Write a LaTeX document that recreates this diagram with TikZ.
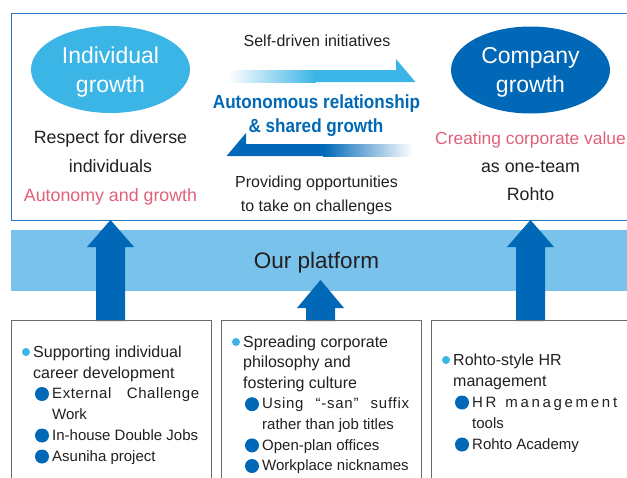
\documentclass[tikz,border=0pt]{standalone}
\usepackage{fontspec}
\setmainfont{Liberation Sans}
\newfontfamily\condbold[FakeStretch=0.9]{Liberation Sans Bold}
\usetikzlibrary{shapes.geometric}
\definecolor{lb}{HTML}{3BB4E6}
\definecolor{db}{HTML}{0068B6}
\definecolor{bandc}{HTML}{78C2EC}
\definecolor{pinkc}{HTML}{E0607A}
\definecolor{txt}{HTML}{231F20}
\definecolor{framec}{HTML}{2B77BC}
\definecolor{boxc}{HTML}{6A6A6A}
\newcommand\bigup[4]{% cx, tip y, head base y, bottom y
  \fill[db] (#1-14.5,#4) -- (#1-14.5,#3) -- (#1-23.5,#3) -- (#1,#2) -- (#1+23.5,#3) -- (#1+14.5,#3) -- (#1+14.5,#4) -- cycle;}
\begin{document}
\begin{tikzpicture}[x=1pt,y=-1pt,
  every node/.style={inner sep=0pt, text=txt},
  topt/.style={anchor=base, font=\fontsize{17.8}{21}\selectfont},
  midt/.style={anchor=base, font=\fontsize{16}{19}\selectfont},
  ellt/.style={anchor=base, text=white, font=\fontsize{23}{28}\selectfont},
  autot/.style={anchor=base, text=db, font=\condbold\fontsize{19}{23}\selectfont},
  lvla/.style={anchor=base west, font=\fontsize{16}{19}\selectfont},
  lvlb/.style={anchor=base west, font=\fontsize{15}{18}\selectfont},
  boxn/.style={draw=boxc, line width=0.9pt, anchor=north west, minimum width=200pt, minimum height=170pt},
  sdot/.style={circle, fill=lb, minimum size=8pt},
  bdot/.style={circle, fill=db, minimum size=14pt}]
\useasboundingbox (0,0) rectangle (627,477);
% top frame
\node[draw=framec, line width=1pt, anchor=north west, minimum width=640pt, minimum height=207pt] (frame) at (11,13) {};
% ellipses
\node[ellipse, fill=lb, minimum width=159pt, minimum height=87pt] (ind) at (110.5,69.5) {};
\node[ellipse, fill=db, minimum width=159pt, minimum height=87pt] (comp) at (530.5,70) {};
\node[ellt] (ind1) at (110.5,63) {Individual};
\node[ellt] (ind2) at (110.5,92) {growth};
\node[ellt] (comp1) at (530.5,63) {Company};
\node[ellt] (comp2) at (530.5,92) {growth};
% left texts
\node[topt] (l1) at (110.5,143) {Respect for diverse};
\node[topt] (l2) at (110.5,172) {individuals};
\node[topt, text=pinkc] (l3) at (110.5,201) {Autonomy and growth};
% right texts
\node[topt, text=pinkc, font=\fontsize{17.4}{21}\selectfont] (r1) at (530.5,144) {Creating corporate value};
\node[topt] (r2) at (530.5,172) {as one-team};
\node[topt] (r3) at (530.5,200) {Rohto};
% middle arrows
\shade[left color=white, right color=lb] (228,70) rectangle (316,82);
\fill[lb] (315,70) -- (396,70) -- (396,59) -- (415,81.5) -- (415,82) -- (315,82) -- cycle;
\fill[db] (324,144) -- (246,144) -- (246,133) -- (227,155.5) -- (227,156) -- (324,156) -- cycle;
\shade[left color=db, right color=white] (323,144) rectangle (413,156);
% middle texts
\node[midt] (m1) at (317,46) {Self-driven initiatives};
\node[autot] (a1) at (316.5,108) {Autonomous relationship};
\node[autot] (a2) at (316,132) {\& shared growth};
\node[midt] (m2) at (316.5,187) {Providing opportunities};
\node[midt] (m3) at (316.5,211.5) {to take on challenges};
% platform band
\fill[bandc] (11,230) rectangle (640,291);
\node[anchor=base, font=\fontsize{22.5}{27}\selectfont] (plat) at (316.5,268) {Our platform};
% big arrows
\bigup{110.5}{220}{247}{321}
\bigup{530.5}{220}{247}{321}
\bigup{320.5}{280}{308}{321}
% boxes
\node[boxn] (b1) at (11,320) {};
\node[boxn] (b2) at (221,320) {};
\node[boxn, minimum width=220pt] (b3) at (431,320) {};
% box 1
\node[sdot] (d11) at (26,352) {};
\node[lvla] (t11) at (33,357) {Supporting individual};
\node[lvla] (t12) at (33,378) {career development};
\node[bdot] (d12) at (42,394) {};
\node[lvlb] (t13) at (52,398.6) {\addfontfeature{LetterSpace=4}\makebox[147pt][s]{External Challenge}};
\node[lvlb] (t14) at (52,419.4) {Work};
\node[bdot] (d13) at (42,435.5) {};
\node[lvlb] (t15) at (52,440.2) {In-house Double Jobs};
\node[bdot] (d14) at (42,456.5) {};
\node[lvlb] (t16) at (52,461) {Asuniha project};
% box 2
\node[sdot] (d21) at (236,342) {};
\node[lvla] (t21) at (243,347) {Spreading corporate};
\node[lvla] (t22) at (243,367.6) {philosophy and};
\node[lvla] (t23) at (243,388.2) {fostering culture};
\node[bdot] (d22) at (252,404.2) {};
\node[lvlb] (t24) at (262,408.8) {\addfontfeature{LetterSpace=5}\makebox[147pt][s]{Using “-san” suffix}};
\node[lvlb] (t25) at (262,429.4) {rather than job titles};
\node[bdot] (d23) at (252,445.4) {};
\node[lvlb] (t26) at (262,450) {Open-plan offices};
\node[bdot] (d24) at (252,466) {};
\node[lvlb] (t27) at (262,470.6) {Workplace nicknames};
% box 3
\node[sdot] (d31) at (446,360) {};
\node[lvla] (t31) at (453,365) {Rohto-style HR};
\node[lvla] (t32) at (453,386) {management};
\node[bdot] (d32) at (462,402.5) {};
\node[lvlb] (t33) at (472,407) {\addfontfeature{LetterSpace=18}\makebox[145pt][s]{HR management}};
\node[lvlb] (t34) at (472,428) {tools};
\node[bdot] (d33) at (462,444.5) {};
\node[lvlb] (t35) at (472,449) {Rohto Academy};
\end{tikzpicture}
\end{document}
